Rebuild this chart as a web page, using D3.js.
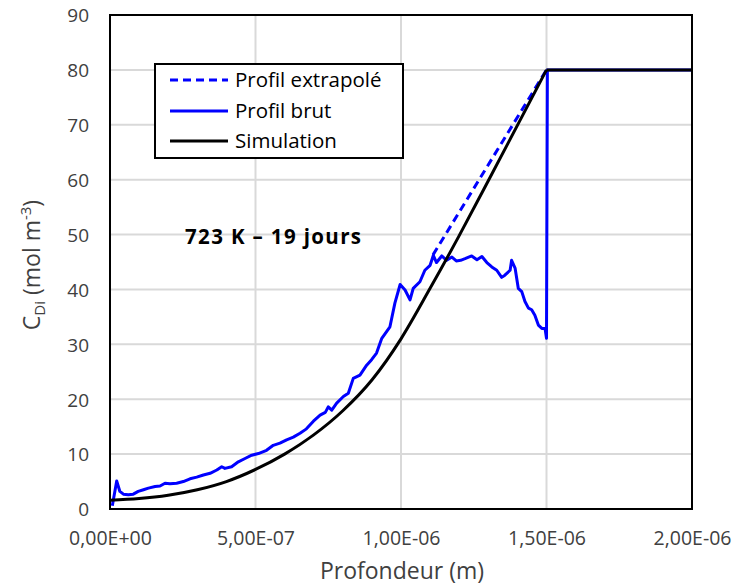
<!DOCTYPE html>
<html>
<head>
<meta charset="utf-8">
<script src="https://cdn.jsdelivr.net/npm/d3@7"></script>
<style>
  html, body { margin: 0; padding: 0; background: #fff; }
  svg { display: block; font-family: "Open Sans", Lato, sans-serif; }
</style>
</head>
<body>
<svg id="chart" width="745" height="586"></svg>
<script>
// Depth values in micrometres, converted to metres for the axis
const MICRON = 1e-6;

// Simulated profile: smooth rise up to the surface value, then a constant plateau
const simDepth = [0, 0.1, 0.2, 0.3, 0.4, 0.5, 0.6, 0.7, 0.8, 0.9, 1.0, 1.1, 1.2, 1.3, 1.4, 1.5];
const simConc  = [1.6, 1.9, 2.5, 3.5, 5.0, 7.2, 10.0, 13.5, 17.9, 23.5, 31.0, 40.2, 49.8, 59.8, 69.9, 80.0];
const plateauDepth = [1.5, 2.0];
const plateauConc  = [80, 80];

// Extrapolated profile (dashed)
const extDepth = [1.11, 1.50];
const extConc  = [46.3, 80];

// Raw measured profile
const rawDepth = [0.008, 0.023, 0.034, 0.046, 0.063, 0.080, 0.097, 0.115, 0.132, 0.155, 0.172, 0.189, 0.206, 0.229, 0.252,
  0.275, 0.298, 0.321, 0.344, 0.367, 0.384, 0.395, 0.418, 0.441, 0.464, 0.487, 0.510, 0.538, 0.561, 0.584, 0.607, 0.630,
  0.653, 0.675, 0.699, 0.722, 0.740, 0.750, 0.762, 0.779, 0.802, 0.819, 0.836, 0.859, 0.882, 0.899, 0.916, 0.934, 0.962,
  0.979, 0.997, 1.014, 1.031, 1.042, 1.065, 1.082, 1.100, 1.111, 1.122, 1.140, 1.157, 1.175, 1.190, 1.205, 1.220, 1.243,
  1.261, 1.278, 1.295, 1.312, 1.329, 1.346, 1.357, 1.375, 1.380, 1.392, 1.403, 1.415, 1.426, 1.438, 1.449, 1.460, 1.472,
  1.484, 1.495, 1.500, 1.503, 2.00];
const rawConc = [0.6, 5.1, 3.2, 2.7, 2.6, 2.7, 3.2, 3.5, 3.8, 4.1, 4.2, 4.7, 4.6, 4.7, 5.0,
  5.5, 5.8, 6.2, 6.5, 7.1, 7.7, 7.4, 7.7, 8.6, 9.2, 9.8, 10.1, 10.7, 11.6, 12.0, 12.6, 13.1,
  13.8, 14.6, 16.0, 17.1, 17.6, 18.6, 18.0, 19.3, 20.5, 21.1, 23.8, 24.4, 26.2, 27.2, 28.4, 31.1, 33.2,
  37.5, 40.9, 39.9, 38.1, 40.2, 41.4, 43.5, 44.4, 46.2, 44.9, 46.1, 45.3, 45.9, 45.2, 45.3, 45.6, 46.1,
  45.4, 46.0, 44.9, 44.1, 43.5, 42.2, 42.6, 43.5, 45.3, 43.9, 40.2, 39.6, 37.8, 36.6, 36.3, 35.3, 33.5,
  32.9, 32.9, 31.1, 80, 80];

// Axis ticks
const xTicks = [0, 0.5, 1.0, 1.5, 2.0].map(d => d * MICRON);
const yTicks = [0, 10, 20, 30, 40, 50, 60, 70, 80, 90];

const legendLabels = ["Profil extrapolé", "Profil brut", "Simulation"];
const annotation = "723 K \u2013 19 jours";

const blue = "#0000ff";
const textGrey = "#404040";
const margin = { left: 110, right: 692, top: 15, bottom: 509 };

const svg = d3.select("#chart");
const x = d3.scaleLinear().domain([0, 2 * MICRON]).range([margin.left, margin.right]);
const y = d3.scaleLinear().domain([0, 90]).range([margin.bottom, margin.top]);

const fmtSci = v => {
  const [m, e] = v.toExponential(2).split("e");
  const sign = e[0] === "-" ? "-" : "+";
  const ex = e.replace(/[+-]/, "").padStart(2, "0");
  return m.replace(".", ",") + "E" + sign + ex;
};

// Gridlines
svg.append("g").selectAll("line").data(yTicks.slice(1, -1)).join("line")
  .attr("x1", margin.left).attr("x2", margin.right)
  .attr("y1", d => y(d)).attr("y2", d => y(d))
  .attr("stroke", "#d9d9d9").attr("stroke-width", 2);
svg.append("g").selectAll("line").data(xTicks.slice(1, -1)).join("line")
  .attr("y1", margin.top).attr("y2", margin.bottom)
  .attr("x1", d => x(d)).attr("x2", d => x(d))
  .attr("stroke", "#d9d9d9").attr("stroke-width", 2);

// Axes (labels only, frame drawn below)
const yAxis = svg.append("g").attr("transform", `translate(${margin.left - 21},0)`)
  .call(d3.axisLeft(y).tickValues(yTicks).tickSize(0).tickPadding(0));
yAxis.select(".domain").remove();
yAxis.selectAll("text").attr("font-size", 19).attr("fill", textGrey)
  .attr("font-family", "'Open Sans', Lato, sans-serif").attr("dy", "0.36em");

const xAxis = svg.append("g").attr("transform", `translate(0,${margin.bottom + 22})`)
  .call(d3.axisBottom(x).tickValues(xTicks).tickFormat(fmtSci).tickSize(0).tickPadding(0));
xAxis.select(".domain").remove();
xAxis.selectAll("text").attr("font-size", 19.5).attr("fill", textGrey)
  .attr("font-family", "'Open Sans', Lato, sans-serif").attr("dy", "0.71em");

// Series
const line = d3.line().x(d => x(d[0] * MICRON)).y(d => y(d[1]));
const smooth = d3.line().curve(d3.curveMonotoneX).x(d => x(d[0] * MICRON)).y(d => y(d[1]));
const zip = (a, b) => a.map((d, i) => [d, b[i]]);

svg.append("path").datum(zip(rawDepth, rawConc)).attr("d", line)
  .attr("fill", "none").attr("stroke", blue).attr("stroke-width", 3).attr("stroke-linejoin", "round");
svg.append("path").datum(zip(extDepth, extConc)).attr("d", line)
  .attr("fill", "none").attr("stroke", blue).attr("stroke-width", 3).attr("stroke-dasharray", "8,5");
const simGroup = svg.append("g").attr("fill", "none").attr("stroke", "#000").attr("stroke-width", 3);
simGroup.append("path").datum(zip(simDepth, simConc)).attr("d", smooth);
simGroup.append("path").datum(zip(plateauDepth, plateauConc)).attr("d", line);

// Plot frame
svg.append("rect").attr("x", margin.left).attr("y", margin.top)
  .attr("width", margin.right - margin.left).attr("height", margin.bottom - margin.top)
  .attr("fill", "none").attr("stroke", "#000").attr("stroke-width", 2);

// Axis titles
svg.append("text").attr("x", 402).attr("y", 579).attr("text-anchor", "middle")
  .attr("font-size", 23).attr("fill", textGrey).text("Profondeur (m)");

const yt = svg.append("text").attr("transform", "translate(40,265) rotate(-90)")
  .attr("text-anchor", "middle").attr("font-size", 23).attr("fill", textGrey);
yt.append("tspan").text("C");
yt.append("tspan").attr("font-size", 15).attr("dy", 5).text("Di");
yt.append("tspan").attr("dy", -5).text(" (mol m");
yt.append("tspan").attr("font-size", 15).attr("dy", -9).text("-3");
yt.append("tspan").attr("dy", 9).text(")");

// Annotation
svg.append("text").attr("x", 185).attr("y", 244).attr("font-size", 20.5).attr("font-weight", "bold")
  .attr("textLength", 176).attr("lengthAdjust", "spacing")
  .attr("fill", "#000").text(annotation);

// Legend
const lg = svg.append("g");
lg.append("rect").attr("x", 155).attr("y", 64).attr("width", 248).attr("height", 94)
  .attr("fill", "#fff").attr("stroke", "#000").attr("stroke-width", 2);
const legendStyles = [
  { stroke: blue, dash: "8,5" },
  { stroke: blue, dash: null },
  { stroke: "#000", dash: null }
];
const rowY = [80, 111, 141];
legendLabels.forEach((lab, i) => {
  lg.append("line").attr("x1", 170).attr("x2", 228).attr("y1", rowY[i]).attr("y2", rowY[i])
    .attr("stroke", legendStyles[i].stroke).attr("stroke-width", 3)
    .attr("stroke-dasharray", legendStyles[i].dash);
  lg.append("text").attr("x", 235).attr("y", rowY[i]).attr("dy", "0.36em")
    .attr("font-size", 20.5).attr("fill", "#000").text(lab);
});
</script>
</body>
</html>
